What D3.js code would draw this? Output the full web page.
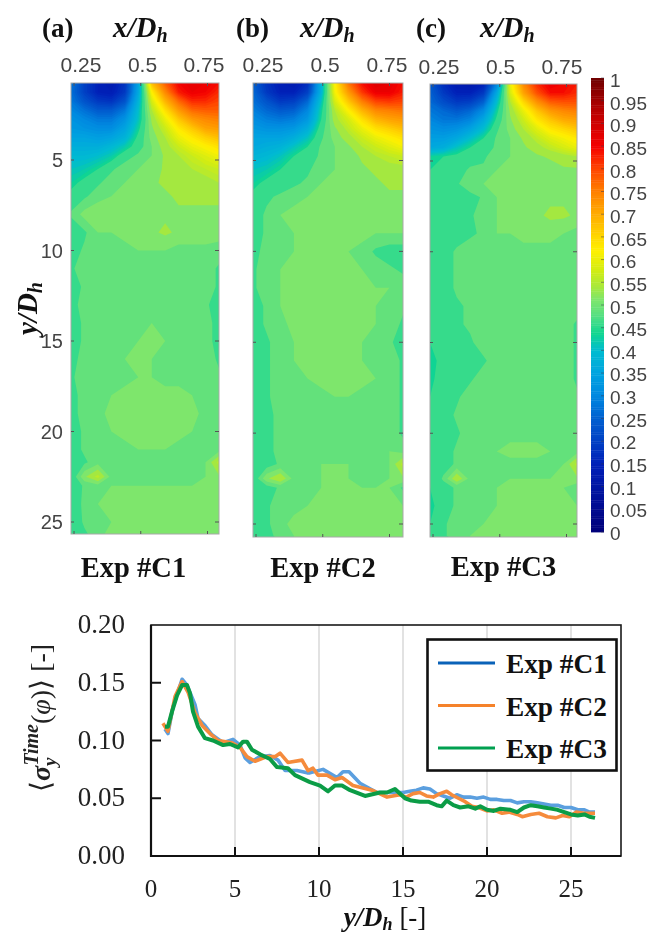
<!DOCTYPE html>
<html><head><meta charset="utf-8">
<script src="https://cdn.jsdelivr.net/npm/d3@7"></script>
<style>
html,body{margin:0;padding:0;background:#fff}
svg{display:block;filter:blur(0.5px)}
</style></head><body><svg id="c" width="651" height="936"></svg>
<script>
const columnsX=[0.24,0.29,0.34,0.39,0.44,0.49,0.54,0.59,0.64,0.69,0.74,0.79];
const rowsY=[0.75,1.25,1.75,2.25,2.75,3.25,3.75,4.25,4.75,5.5,6.25,7,8,9,10,11,12,13,14,15,16,17,18,19,20,21,21.7,22.5,23,24,25,25.65];
const fieldC1=[
[28,20,15,13,18,35,68,78,85,87,86,84],[27,20,15,14,19,36,62,74,83,86,85,82],[28,23,19,18,23,38,58,69,77,82,82,80],
[30,27,24,24,28,40,55,64,72,77,78,78],[32,30,28,28,32,41,53,60,67,72,74,75],[33,32,31,31,35,43,52,57,63,67,71,72],
[35,35,34,35,38,45,51,55,60,63,66,68],[37,37,37,39,42,46,50,54,57,60,62,64],[39,39,40,42,46,48,50,53,55,57,59,61],
[41,42,44,47,49,50,51,53,54,55,56,57],[43,45,47,49,50,51,52,53,53,54,54,55],[45,47,49,50,51,52,52,52,53,53,53,53],
[48,51,52,52,52,52,52,52,52,52,52,52],[45,47,50,50,51,51,52,53,52,52,52,51],[46,48,49,49,49,50,50,50,49,49,49,49],
[47,49,49,49,49,49,49,49,49,49,49,47],[46,48,49,49,49,49,49,49,49,49,49,47],[47,48,49,49,49,49,49,49,49,49,48,46],
[46,48,49,49,49,49,50,49,49,49,49,46],[46,48,49,49,49,50,50,50,49,49,49,46],[47,48,49,50,50,50,50,49,49,49,49,47],
[47,49,49,49,49,50,50,49,49,49,49,48],[47,48,49,50,51,51,51,51,51,50,49,48],[47,48,49,51,51,51,51,51,51,51,49,48],
[46,48,49,50,51,51,51,51,51,50,49,48],[46,48,49,49,49,50,50,50,49,49,49,49],[45,47,49,49,49,49,49,49,49,49,50,56],
[45,52,56,49,49,49,49,49,49,49,50,52],[45,48,49,50,50,50,50,50,50,50,50,50],[46,48,50,50,51,51,51,51,51,51,51,51],
[45,48,49,50,51,51,51,51,51,51,51,51],[45,47,49,51,51,51,51,51,51,51,51,51]];
const fieldC2=[
[25,18,14,13,17,38,62,76,84,88,87,84],[26,19,15,15,20,38,61,72,81,86,86,83],[27,23,19,20,26,41,58,67,75,80,81,80],
[29,26,24,25,30,43,55,62,69,74,75,76],[31,29,28,29,33,44,54,58,64,69,71,72],[33,32,32,33,37,46,52,56,60,64,66,68],
[35,35,35,37,41,47,51,54,57,60,62,64],[36,37,38,41,44,48,50,52,55,57,59,61],[38,39,41,44,46,48,50,51,53,55,56,57],
[41,42,44,46,47,49,50,51,52,53,54,54],[43,45,46,47,48,50,51,51,52,52,53,53],[45,47,48,49,50,51,51,51,52,52,52,52],
[46,48,50,51,51,51,51,51,51,51,51,51],[46,48,49,50,50,51,51,51,51,50,50,50],[47,48,49,50,51,51,50,50,49,47,46,46],
[47,49,50,50,50,50,50,50,50,49,48,47],[47,49,50,51,51,51,51,51,50,50,50,49],[46,48,50,51,51,51,51,51,51,50,49,48],
[46,48,49,51,51,51,51,51,51,50,49,47],[45,47,49,50,50,51,51,51,50,49,48,46],[46,47,49,50,50,51,51,50,50,49,49,47],
[45,47,49,49,50,51,51,51,51,50,49,47],[45,47,49,49,49,49,50,50,49,49,49,47],[44,46,49,49,49,49,49,49,49,49,49,47],
[44,46,49,49,49,49,49,49,49,49,49,47],[44,47,48,49,49,49,49,49,49,49,50,49],[44,46,48,49,49,50,50,50,49,49,50,56],
[45,52,55,49,49,50,50,50,49,49,50,52],[44,46,48,49,49,50,51,50,50,50,50,47],[45,47,49,49,50,51,51,51,51,51,50,50],
[44,47,49,51,51,51,51,51,51,51,51,50],[44,46,49,50,51,51,51,51,51,51,51,51]];
const fieldC3=[
[24,17,13,12,15,30,60,74,82,86,85,83],[25,19,15,15,19,36,58,71,79,84,84,82],[26,22,19,20,25,40,55,65,73,78,79,79],
[28,26,24,26,31,43,53,60,67,72,74,75],[30,28,28,30,36,45,52,57,63,67,70,71],[32,31,32,35,40,47,51,55,59,63,65,67],
[34,34,36,40,44,48,50,53,56,59,61,63],[36,37,41,44,46,48,50,52,54,56,58,60],[43,44,45,46,47,49,50,51,52,53,54,55],
[44,45,46,48,48,50,50,50,51,51,52,52],[44,45,47,50,50,50,51,52,52,52,52,51],[44,45,46,46,48,50,51,51,51,52,52,52],
[44,45,46,47,49,50,51,51,52,53,53,52],[44,45,46,47,48,50,50,51,51,51,50,49],[44,46,48,49,49,49,49,49,49,49,49,49],
[45,46,48,49,49,49,49,50,49,49,49,48],[45,46,48,48,49,49,49,49,49,49,49,49],[44,45,47,48,49,49,49,49,49,49,50,49],
[44,45,47,48,49,49,49,49,49,49,49,47],[44,46,47,47,49,49,49,49,49,49,49,47],[43,45,47,47,47,49,49,49,49,49,49,47],
[43,46,47,47,49,49,49,49,49,49,49,47],[44,46,47,49,49,49,49,49,49,49,49,48],[44,46,48,49,49,49,49,49,49,49,49,48],
[44,46,47,49,49,49,49,49,49,49,49,48],[44,46,48,49,49,50,51,51,51,50,49,49],[44,46,48,49,49,49,49,49,49,49,50,56],
[44,48,55,49,49,49,50,50,50,50,50,52],[44,46,48,49,49,50,51,51,51,50,50,48],[43,46,48,49,49,50,50,51,51,51,51,50],
[44,47,49,49,50,50,51,51,51,51,52,51],[44,47,49,50,50,50,50,51,51,51,51,51]];

const panelNames=["(a)","(b)","(c)"];
const expNames=["Exp #C1","Exp #C2","Exp #C3"];
const xTicks=[0.25,0.5,0.75];
const yTicks=[5,10,15,20,25];
const barTicks=d3.range(0,21).map(i=>i*5);
const colorStops=[0,0.15,0.25,0.3,0.35,0.4,0.4375,0.4625,0.4875,0.5125,0.5375,0.575,0.62,0.65,0.7,0.75,0.8,0.85,0.92,1];
const colorValues=["#00007a","#0020b8","#0060d0","#0088e0","#00a4e0","#00bcd0","#10d690","#3fdc8a","#63e17b","#7ee66c","#a4e840","#d0ec14","#fff000","#ffd800","#ffac00","#ff8000","#ff4400","#f40000","#c00000","#6e0000"];

const seriesC1x=[0.83,1.01,1.31,1.85,2.14,2.62,2.8,3.21,3.63,4.29,4.88,5.3,5.6,5.89,6.49,7.08,7.56,7.98,8.69,9.29,9.46,10.24,11.07,11.43,11.79,12.44,13.45,15,15.4,15.8,16.2,16.6,17,17.4,17.8,18.2,18.6,19,19.4,19.8,20.2,20.6,21,21.4,21.8,22.2,22.6,23,23.4,23.8,24.2,24.6,25,25.4,25.8,26.1,26.43];
const seriesC1y=[0.110,0.106,0.129,0.153,0.148,0.131,0.119,0.113,0.105,0.098,0.101,0.096,0.085,0.081,0.086,0.087,0.083,0.074,0.074,0.072,0.072,0.075,0.068,0.073,0.073,0.063,0.055,0.055,0.056,0.057,0.059,0.058,0.054,0.052,0.050,0.053,0.051,0.051,0.050,0.051,0.049,0.049,0.048,0.048,0.046,0.047,0.047,0.046,0.045,0.044,0.044,0.042,0.042,0.040,0.040,0.038,0.038];
const seriesC2x=[0.71,1.01,1.43,1.85,2.2,2.62,3.04,3.51,3.99,4.82,5.3,5.71,6.19,6.9,7.38,7.68,8.15,8.99,9.35,9.64,9.94,10.48,10.95,11.37,12.02,13.15,14.05,14.82,15.2,15.6,16,16.4,16.8,17.2,17.6,17.9,18.3,18.7,19.1,19.5,20,20.4,20.9,21.3,21.8,22.1,22.6,23.1,23.6,24.1,24.5,24.9,25.3,25.8,26.43];
const seriesC2y=[0.115,0.108,0.138,0.151,0.142,0.124,0.113,0.106,0.100,0.098,0.094,0.086,0.082,0.086,0.086,0.089,0.081,0.083,0.074,0.076,0.070,0.070,0.066,0.068,0.061,0.057,0.051,0.053,0.051,0.054,0.055,0.052,0.051,0.054,0.056,0.053,0.050,0.047,0.043,0.042,0.039,0.040,0.037,0.038,0.036,0.034,0.036,0.037,0.034,0.033,0.035,0.034,0.038,0.037,0.037];
const seriesC3x=[0.83,1.01,1.25,1.55,1.85,2.14,2.32,2.5,2.8,3.21,3.69,4.29,4.7,5.18,5.48,5.71,6.01,6.49,7.08,7.5,8.15,8.57,9.46,10.06,10.54,10.95,11.37,11.85,12.74,13.63,14.05,14.52,15.12,15.5,16,16.5,17,17.3,17.6,18,18.4,18.9,19.3,19.6,20,20.4,20.8,21.4,21.8,22.2,22.6,23,23.4,23.8,24.2,24.6,25,25.4,25.8,26.1,26.43];
const seriesC3y=[0.112,0.112,0.125,0.139,0.148,0.148,0.141,0.125,0.112,0.102,0.100,0.096,0.097,0.094,0.099,0.099,0.092,0.088,0.084,0.077,0.076,0.070,0.064,0.061,0.056,0.061,0.061,0.057,0.052,0.055,0.055,0.058,0.050,0.048,0.047,0.047,0.044,0.043,0.048,0.044,0.042,0.043,0.041,0.043,0.040,0.039,0.041,0.040,0.038,0.042,0.044,0.043,0.042,0.041,0.040,0.038,0.036,0.035,0.036,0.034,0.033];
const lineXTicks=[0,5,10,15,20,25];
const lineYTicks=[0,0.05,0.1,0.15,0.2];

const svg=d3.select("#c");
const SERIF='"Liberation Serif","Times New Roman",serif';
const SANS='"Liberation Sans",Arial,sans-serif';
const color=d3.scaleLinear().domain(colorStops).range(colorValues);
const thresholds=[...d3.range(0,45).map(i=>i/100),0.475,0.5,0.525,0.55,...d3.range(56,101).map(i=>i/100)];
const nextLevel=t=>{const i=thresholds.indexOf(t);return i<thresholds.length-1?thresholds[i+1]:1;};
const layouts=[
 {field:fieldC1,l:71,r:219,t:83,b:534,y5:160,y25:522,tickL:[81,204],lblY:72,tx:42,dx:113,ex:133.5,ey:577},
 {field:fieldC2,l:253,r:403,t:83,b:537,y5:160.5,y25:524,tickL:[263,387],lblY:72,tx:236,dx:300,ex:323,ey:577},
 {field:fieldC3,l:430,r:577,t:84,b:537,y5:161,y25:524,tickL:[439,562],lblY:74,tx:416,dx:480,ex:503.5,ey:576}
];
const tickGray="#444";
layouts.forEach((p,pi)=>{
  const g=svg.append("g");
  const xs=d3.scaleLinear().domain([columnsX[0],columnsX[columnsX.length-1]]).range([p.l,p.r]);
  const ys=d3.scaleLinear().domain([5,25]).range([p.y5,p.y25]);
  const fx=d3.scaleLinear().domain(columnsX.map((_,i)=>i+0.5)).range(columnsX.map(xs));
  const fy=d3.scaleLinear().domain(rowsY.map((_,i)=>i+0.5)).range(rowsY.map(ys));
  const flat=p.field.flat().map(v=>v/100);
  const cont=d3.contours().size([columnsX.length,rowsY.length]).thresholds(thresholds)(flat);
  const path=d3.geoPath(d3.geoTransform({point(x,y){this.stream.point(fx(x),fy(y));}}));
  const cid="clip"+pi;
  g.append("clipPath").attr("id",cid).append("rect").attr("x",p.l).attr("y",p.t).attr("width",p.r-p.l).attr("height",p.b-p.t);
  g.append("g").attr("clip-path",`url(#${cid})`).selectAll("path").data(cont).join("path")
    .attr("d",path).attr("fill",d=>color((d.value+nextLevel(d.value))/2));
  g.append("rect").attr("x",p.l).attr("y",p.t).attr("width",p.r-p.l).attr("height",p.b-p.t).attr("fill","none").attr("stroke","#a8a8a8").attr("stroke-width",1);
  const tx=d3.scaleLinear().domain([0.25,0.75]).range([p.l+3,p.l+3+133.5]);
  xTicks.forEach(v=>{
    g.append("line").attr("x1",tx(v)).attr("x2",tx(v)).attr("y1",p.t).attr("y2",p.t+3).attr("stroke","#555");
    g.append("line").attr("x1",tx(v)).attr("x2",tx(v)).attr("y1",p.b).attr("y2",p.b-3).attr("stroke","#555");
  });
  yTicks.forEach(v=>{
    g.append("line").attr("x1",p.l).attr("x2",p.l+3).attr("y1",ys(v)).attr("y2",ys(v)).attr("stroke","#555");
    g.append("line").attr("x1",p.r).attr("x2",p.r-4).attr("y1",ys(v)).attr("y2",ys(v)).attr("stroke","#555");
  });
  const lx=d3.scaleLinear().domain([0.25,0.75]).range(p.tickL);
  g.selectAll("text.xl").data(xTicks).join("text").attr("x",lx).attr("y",p.lblY).attr("text-anchor","middle")
    .attr("font-family",SANS).attr("font-size",21).attr("fill",tickGray).text(d=>d);
  g.append("text").attr("x",p.tx).attr("y",37).attr("font-family",SERIF).attr("font-weight","bold").attr("font-size",27).attr("fill","#111").text(panelNames[pi]);
  const dt=g.append("text").attr("x",p.dx).attr("y",37).attr("font-family",SERIF).attr("font-weight","bold").attr("font-style","italic").attr("font-size",29).attr("fill","#111");
  dt.append("tspan").text("x/D");
  dt.append("tspan").attr("dy",5).attr("font-size",20).text("h");
  g.append("text").attr("x",p.ex).attr("y",p.ey).attr("text-anchor","middle").attr("font-family",SERIF).attr("font-weight","bold").attr("font-size",28.5).attr("fill","#111").text(expNames[pi]);
});
const ya=d3.scaleLinear().domain([5,25]).range([160,522]);
svg.selectAll("text.yl").data(yTicks).join("text").attr("x",63).attr("y",d=>ya(d)+7).attr("text-anchor","end")
  .attr("font-family",SANS).attr("font-size",20).attr("fill",tickGray).text(d=>d);
const yl=svg.append("text").attr("transform","translate(37,335) rotate(-90)").attr("font-family",SERIF).attr("font-weight","bold").attr("font-style","italic").attr("font-size",29).attr("fill","#111");
yl.append("tspan").text("y/D");
yl.append("tspan").attr("dy",5).attr("font-size",20).text("h");

const by=d3.scaleLinear().domain([0,100]).range([532,78]);
const barSteps=d3.range(0,100,0.5);
svg.append("g").selectAll("rect").data(barSteps).join("rect").attr("x",591).attr("width",13)
  .attr("y",d=>by(d+0.5)).attr("height",d=>by(d)-by(d+0.5)+0.4).attr("fill",d=>color((d+0.25)/100));
const byl=d3.scaleLinear().domain([0,100]).range([540,87]);
svg.append("g").selectAll("line").data(barTicks).join("line").attr("x1",601).attr("x2",604)
  .attr("y1",d=>by(d)).attr("y2",d=>by(d)).attr("stroke","#334").attr("stroke-opacity",0.5);
svg.append("g").selectAll("text").data(barTicks).join("text").attr("x",610).attr("y",byl)
  .attr("font-family",SANS).attr("font-size",19).attr("fill",tickGray).text(d=>d/100);

const L=151,R=621,T=625,B=856;
const x=d3.scaleLinear().domain([0,28]).range([L,L+16.8*28]);
const y=d3.scaleLinear().domain([0,0.2]).range([B,T]);
const lg=svg.append("g");
lg.selectAll("line.g").data(lineXTicks.slice(1)).join("line").attr("x1",x).attr("x2",x).attr("y1",T).attr("y2",B).attr("stroke","#e2e2e2").attr("stroke-width",2);
const line=d3.line().x(d=>x(d[0])).y(d=>y(d[1]));
[[seriesC1x,seriesC1y,"#5b9fdf",3.6],[seriesC2x,seriesC2y,"#f58b3c",3.6],[seriesC3x,seriesC3y,"#0b9c46",4]].forEach(s=>{
  lg.append("path").attr("d",line(d3.zip(s[0],s[1]))).attr("fill","none").attr("stroke",s[2]).attr("stroke-width",s[3]).attr("stroke-linejoin","round");
});
lg.append("rect").attr("x",L).attr("y",T).attr("width",R-L).attr("height",B-T).attr("fill","none").attr("stroke","#1a1a1a").attr("stroke-width",1.6);
lg.append("path").attr("d",`M${L},${T}V${B}H${R}`).attr("fill","none").attr("stroke","#111").attr("stroke-width",2.2);
lg.selectAll("line.ty").data(lineYTicks.slice(1,4)).join("line").attr("x1",L).attr("x2",L+10).attr("y1",y).attr("y2",y).attr("stroke","#111").attr("stroke-width",2);
lg.selectAll("line.tx").data(lineXTicks.slice(1)).join("line").attr("x1",x).attr("x2",x).attr("y1",B).attr("y2",B-9).attr("stroke","#111").attr("stroke-width",2);
lg.selectAll("text.ly").data(lineYTicks).join("text").attr("x",125).attr("y",d=>y(d)+8).attr("text-anchor","end")
  .attr("font-family",SERIF).attr("font-size",27).attr("fill","#222").text(d=>d.toFixed(2));
lg.selectAll("text.lx").data(lineXTicks).join("text").attr("x",x).attr("y",897).attr("text-anchor","middle")
  .attr("font-family",SERIF).attr("font-size",25).attr("fill","#222").text(d=>d);
const xl=lg.append("text").attr("x",385).attr("y",926).attr("text-anchor","middle").attr("font-family",SERIF).attr("font-weight","bold").attr("font-style","italic").attr("font-size",27).attr("fill","#111");
xl.append("tspan").text("y/D");
xl.append("tspan").attr("dy",4).attr("font-size",18).text("h");
xl.append("tspan").attr("dy",-4).attr("font-style","normal").attr("font-weight","normal").text(" [-]");
const yt=lg.append("text").attr("transform","translate(50,792) rotate(-90)").attr("font-family",SERIF).attr("font-size",28).attr("fill","#222");
yt.append("tspan").text("\u27E8");
yt.append("tspan").attr("font-style","italic").attr("font-weight","bold").text("\u03C3");
yt.append("tspan").attr("dy",6).attr("font-size",19).attr("font-style","italic").attr("font-weight","bold").text("y");
yt.append("tspan").attr("dy",-18).attr("dx",-8).attr("font-size",20).attr("font-style","italic").attr("font-weight","bold").text("Time");
yt.append("tspan").attr("dy",12).text("(");
yt.append("tspan").attr("font-style","italic").text("\u03C6");
yt.append("tspan").text(")\u27E9 [-]");
lg.append("rect").attr("x",427.5).attr("y",639.5).attr("width",189).attr("height",131).attr("fill","#fff").attr("stroke","#111").attr("stroke-width",2.6);
const legColors=["#0a62b8","#f5822a","#00a050"];
const legY=d3.scalePoint().domain(expNames).range([663,748]);
expNames.forEach((n,i)=>{
  lg.append("line").attr("x1",438).attr("x2",495).attr("y1",legY(n)).attr("y2",legY(n)).attr("stroke",legColors[i]).attr("stroke-width",3);
  lg.append("text").attr("x",506).attr("y",legY(n)+10).attr("font-family",SERIF).attr("font-weight","bold").attr("font-size",27.3).attr("fill","#111").text(n);
});
</script></body></html>
